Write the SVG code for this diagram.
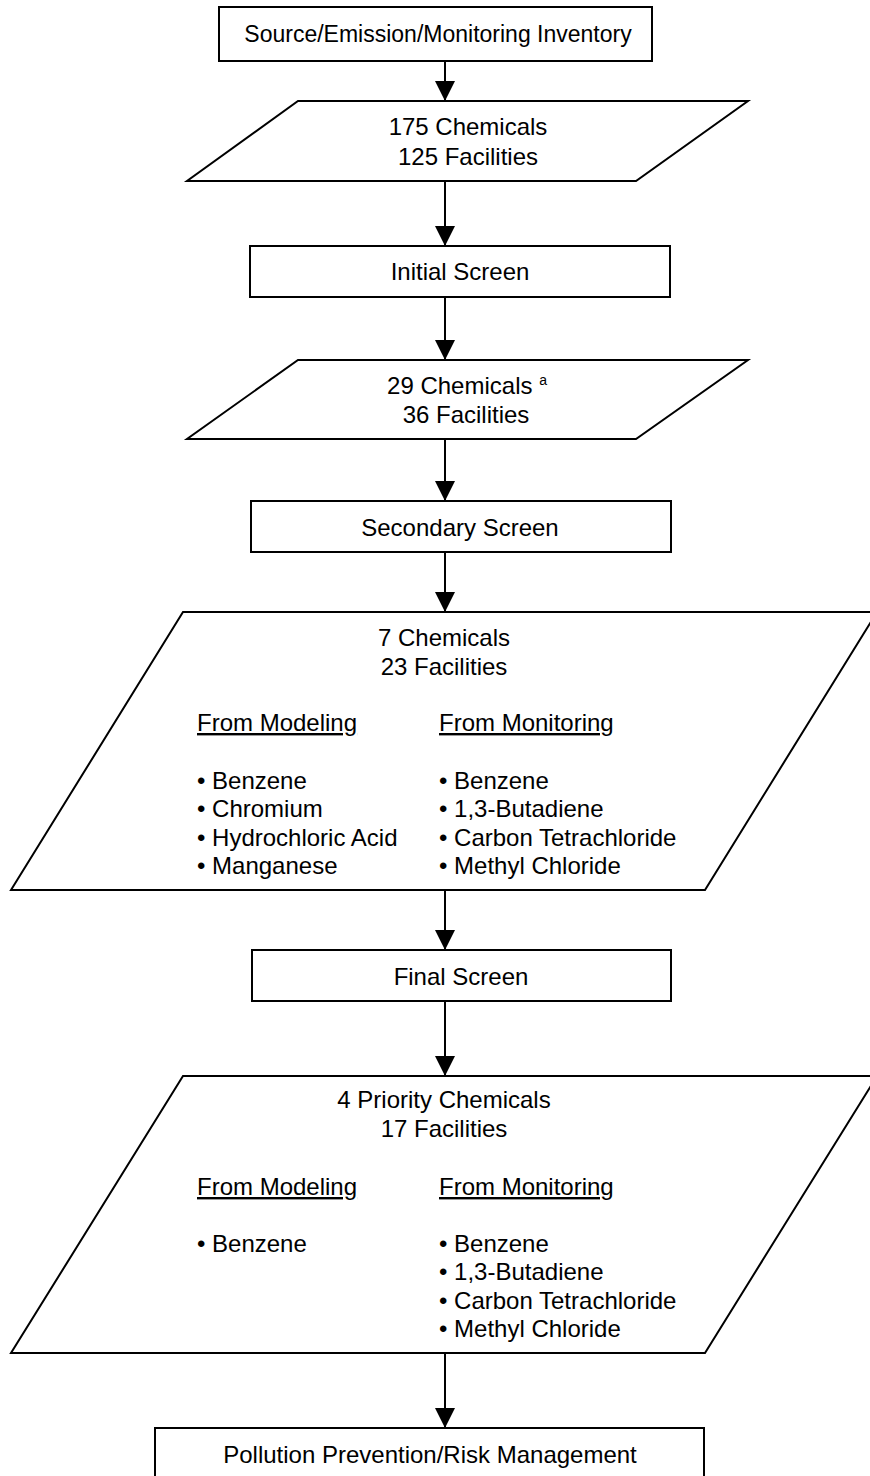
<svg xmlns="http://www.w3.org/2000/svg" width="870" height="1476" viewBox="0 0 870 1476">
<style>
  .shape { fill: #ffffff; stroke: #000000; stroke-width: 2; }
  .conn { stroke: #000000; stroke-width: 2; fill: none; }
  text { font-family: "Liberation Sans", Arial, sans-serif; font-size: 24px; fill: #000000; }
  .c { text-anchor: middle; }
  .u { text-decoration: underline; }
  .sup { font-size: 14px; }
  .sm { font-size: 23px; }
</style>
<defs>
  <marker id="arrow" markerWidth="20" markerHeight="20" refX="20" refY="10" orient="auto" markerUnits="userSpaceOnUse">
    <path d="M0,0 L20,10 L0,20 Z" fill="#000000"/>
  </marker>
</defs>
<rect width="870" height="1476" fill="#ffffff"/>

<g id="connectors">
  <line class="conn" x1="445" y1="61" x2="445" y2="101" marker-end="url(#arrow)"/>
  <line class="conn" x1="445" y1="181" x2="445" y2="246" marker-end="url(#arrow)"/>
  <line class="conn" x1="445" y1="297" x2="445" y2="360" marker-end="url(#arrow)"/>
  <line class="conn" x1="445" y1="439" x2="445" y2="501" marker-end="url(#arrow)"/>
  <line class="conn" x1="445" y1="552" x2="445" y2="612" marker-end="url(#arrow)"/>
  <line class="conn" x1="445" y1="890" x2="445" y2="950" marker-end="url(#arrow)"/>
  <line class="conn" x1="445" y1="1001" x2="445" y2="1076" marker-end="url(#arrow)"/>
  <line class="conn" x1="445" y1="1353" x2="445" y2="1428" marker-end="url(#arrow)"/>
</g>

<g id="inventory">
  <rect class="shape" x="219" y="7" width="433" height="54"/>
  <text class="c sm" x="438" y="42">Source/Emission/Monitoring Inventory</text>
</g>

<g id="data1">
  <polygon class="shape" points="298,101 748,101 636,181 187,181"/>
  <text class="c" x="468" y="135">175 Chemicals</text>
  <text class="c" x="468" y="165">125 Facilities</text>
</g>

<g id="initial-screen">
  <rect class="shape" x="250" y="246" width="420" height="51"/>
  <text class="c" x="460" y="280">Initial Screen</text>
</g>

<g id="data2">
  <polygon class="shape" points="298,360 748,360 636,439 187,439"/>
  <text class="c" x="467" y="394">29 Chemicals <tspan class="sup" dy="-9">a</tspan></text>
  <text class="c" x="466" y="423">36 Facilities</text>
</g>

<g id="secondary-screen">
  <rect class="shape" x="251" y="501" width="420" height="51"/>
  <text class="c" x="460" y="536">Secondary Screen</text>
</g>

<g id="data3">
  <polygon class="shape" points="183,612 877,612 705,890 11,890"/>
  <text class="c" x="444" y="646">7 Chemicals</text>
  <text class="c" x="444" y="675">23 Facilities</text>
  <text class="u" x="197" y="731">From Modeling</text>
  <text class="u" x="439" y="731">From Monitoring</text>
  <text x="197" y="789">• Benzene</text>
  <text x="197" y="817">• Chromium</text>
  <text x="197" y="846">• Hydrochloric Acid</text>
  <text x="197" y="874">• Manganese</text>
  <text x="439" y="789">• Benzene</text>
  <text x="439" y="817">• 1,3-Butadiene</text>
  <text x="439" y="846">• Carbon Tetrachloride</text>
  <text x="439" y="874">• Methyl Chloride</text>
</g>

<g id="final-screen">
  <rect class="shape" x="252" y="950" width="419" height="51"/>
  <text class="c" x="461" y="985">Final Screen</text>
</g>

<g id="data4">
  <polygon class="shape" points="183,1076 877,1076 705,1353 11,1353"/>
  <text class="c" x="444" y="1108">4 Priority Chemicals</text>
  <text class="c" x="444" y="1137">17 Facilities</text>
  <text class="u" x="197" y="1195">From Modeling</text>
  <text class="u" x="439" y="1195">From Monitoring</text>
  <text x="197" y="1252">• Benzene</text>
  <text x="439" y="1252">• Benzene</text>
  <text x="439" y="1280">• 1,3-Butadiene</text>
  <text x="439" y="1309">• Carbon Tetrachloride</text>
  <text x="439" y="1337">• Methyl Chloride</text>
</g>

<g id="risk-management">
  <rect class="shape" x="155" y="1428" width="549" height="60"/>
  <text class="c" x="430" y="1463">Pollution Prevention/Risk Management</text>
</g>
</svg>
